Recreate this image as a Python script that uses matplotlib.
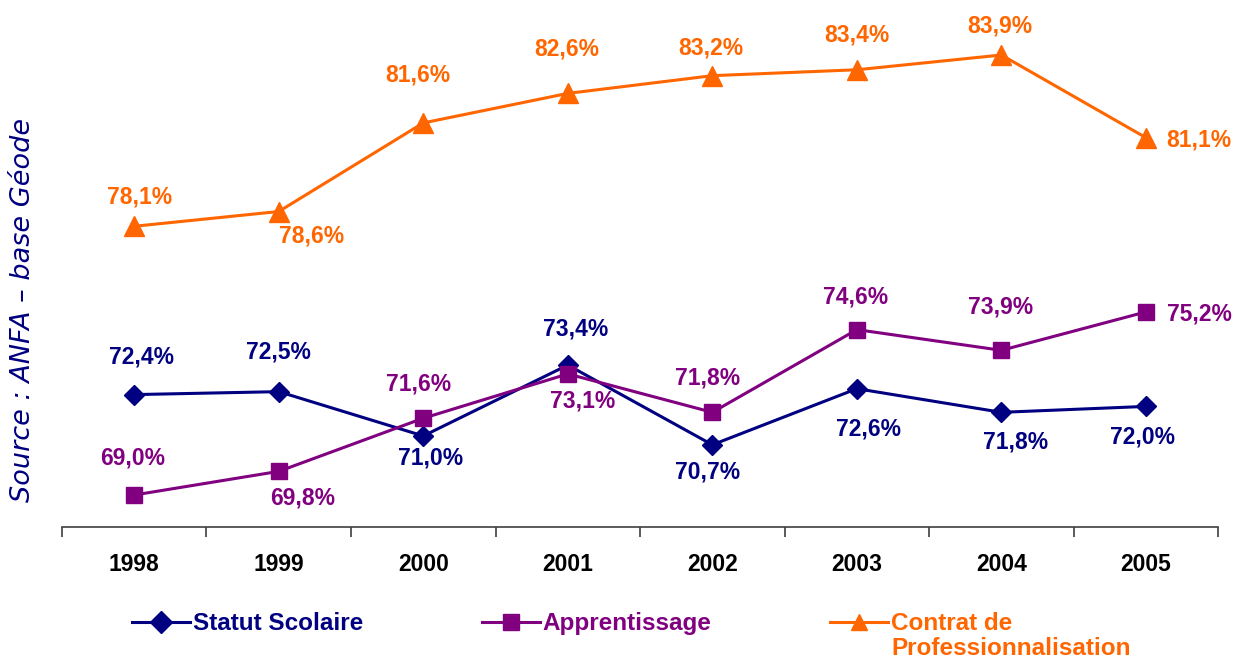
import matplotlib
matplotlib.use("Agg")
import matplotlib.pyplot as plt
from matplotlib.ticker import FixedLocator, NullFormatter

years = ["1998", "1999", "2000", "2001", "2002", "2003", "2004", "2005"]
statut = [72.4, 72.5, 71.0, 73.4, 70.7, 72.6, 71.8, 72.0]
apprent = [69.0, 69.8, 71.6, 73.1, 71.8, 74.6, 73.9, 75.2]
contrat = [78.1, 78.6, 81.6, 82.6, 83.2, 83.4, 83.9, 81.1]
names = ["Statut Scolaire", "Apprentissage", "Contrat de"]
name_extra = "Professionnalisation"

# label offsets in pixels (dx right, dy up)
off_statut = [(7, 38), (0, 40), (7, -22), (8, 36), (-5, -27), (12, -40), (14, -30), (-3, -31)]
off_apprent = [(-2, 37), (24, -27), (-5, 34), (15, -27), (-5, 34), (-1, 33), (-1, 43), (53, -2)]
off_contrat = [(5, 29), (33, -24), (-5, 48), (-1, 44), (-2, 28), (0, 35), (-2, 29), (53, -2)]

colors = ["#000080", "#800080", "#FF6600"]
markers = ["D", "s", "^"]
msizes = [10, 12, 14]

plt.rcParams['font.family'] = ['Liberation Sans', 'DejaVu Sans']

fig = plt.figure(figsize=(12.34, 6.61), dpi=100)
ax = fig.add_axes([0.0502, 0.2027, 0.937, 0.782])
x = list(range(len(years)))
px2pt = 72.0 / 100.0

series = [statut, apprent, contrat]
offsets = [off_statut, off_apprent, off_contrat]
handles = []
for vals, offs, c, m, ms in zip(series, offsets, colors, markers, msizes):
    h, = ax.plot(x, vals, color=c, lw=2.2, marker=m, ms=ms, mec=c, mfc=c, zorder=3)
    handles.append(h)
    for xi, v, (dx, dy) in zip(x, vals, offs):
        ax.annotate(f"{v:.1f}%".replace(".", ","), (xi, v),
                    xytext=(dx * px2pt, dy * px2pt), textcoords="offset points",
                    ha="center", va="center", color=c, fontsize=16.5,
                    fontweight="bold")

ax.set_xlim(-0.5, len(years) - 0.5)
ax.set_ylim(67.916, 85.42)
for s in ["top", "right", "left"]:
    ax.spines[s].set_visible(False)
ax.spines["bottom"].set_color("#404040")
ax.spines["bottom"].set_linewidth(1.2)
ax.set_yticks([])
ax.set_xticks(x)
ax.set_xticklabels(years, fontsize=16.5, fontweight="bold")
ax.tick_params(axis="x", which="major", length=0, pad=19)
ax.xaxis.set_minor_locator(FixedLocator([i - 0.5 for i in range(len(years) + 1)]))
ax.xaxis.set_minor_formatter(NullFormatter())
ax.tick_params(axis="x", which="minor", length=7, width=1.2, color="#404040", direction="out")

fig.text(0.019, 0.531, "Source : ANFA \u2013 base G\u00e9ode", rotation=90,
         ha="center", va="center", color="#000080", fontsize=19.5,
         family="DejaVu Sans", style="italic")

leg = fig.legend(handles, names, loc="upper left", bbox_to_anchor=(0.107, 0.074),
                 ncol=3, frameon=False, handlelength=2.39, handletextpad=0.1,
                 columnspacing=4.9, borderaxespad=0, borderpad=0,
                 prop={"weight": "bold", "size": 17.5}, labelcolor="linecolor")
for lh in leg.legend_handles:
    lh.set_markersize(11)

fig.canvas.draw()
r = fig.canvas.get_renderer()
bb = leg.get_texts()[2].get_window_extent(r)
fig.text(bb.x0 / fig.bbox.width, (bb.y0 - 2) / fig.bbox.height, name_extra,
         ha="left", va="top", color=colors[2], fontsize=17.5, fontweight="bold")

fig.savefig("out.png", dpi=100)
